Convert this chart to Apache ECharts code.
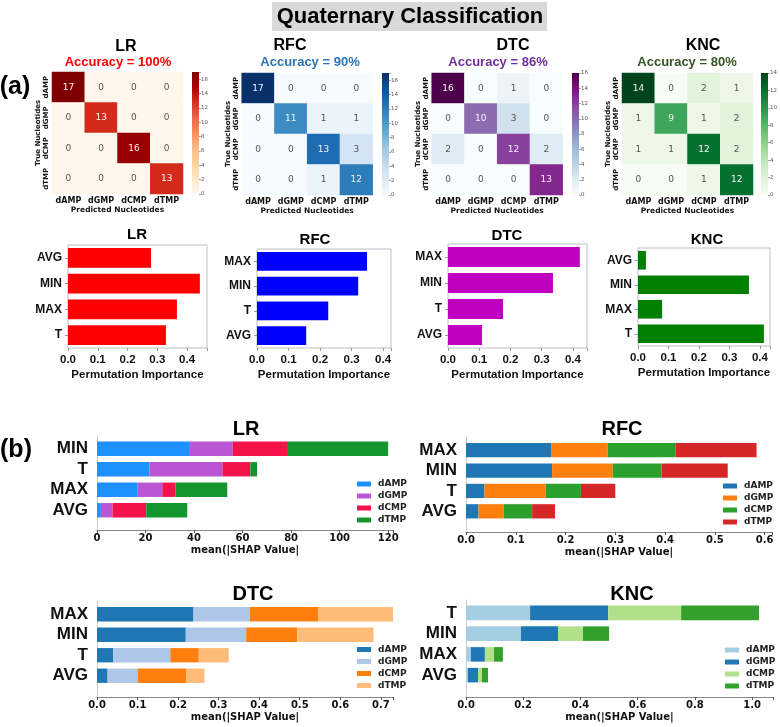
<!DOCTYPE html>
<html><head><meta charset="utf-8">
<script src="https://cdn.jsdelivr.net/npm/echarts@6/dist/echarts.min.js"></script>
<style>html,body{margin:0;padding:0;background:#fff}#c{width:780px;height:727px}</style>
</head><body><div id="c"></div><script>
// ---------------- DATA ----------------
const nucleotides = ['dAMP', 'dGMP', 'dCMP', 'dTMP'];
const models = ['LR', 'RFC', 'DTC', 'KNC'];
const accuracyText = ['Accuracy = 100%', 'Accuracy = 90%', 'Accuracy = 86%', 'Accuracy = 80%'];

const cmLR  = [[17,0,0,0],[0,13,0,0],[0,0,16,0],[0,0,0,13]];
const cmRFC = [[17,0,0,0],[0,11,1,1],[0,0,13,3],[0,0,1,12]];
const cmDTC = [[16,0,1,0],[0,10,3,0],[2,0,12,2],[0,0,0,13]];
const cmKNC = [[14,0,2,1],[1,9,1,2],[1,1,12,2],[0,0,1,12]];
const colorbarMax = [17, 17, 16, 14];

const permFeatLR  = ['AVG', 'MIN', 'MAX', 'T'];
const permValLR   = [0.279, 0.443, 0.366, 0.329];
const permFeatRFC = ['MAX', 'MIN', 'T', 'AVG'];
const permValRFC  = [0.349, 0.321, 0.226, 0.156];
const permFeatDTC = ['MAX', 'MIN', 'T', 'AVG'];
const permValDTC  = [0.422, 0.336, 0.176, 0.109];
const permFeatKNC = ['AVG', 'MIN', 'MAX', 'T'];
const permValKNC  = [0.026, 0.364, 0.079, 0.413];
const permTickLabels = ['0.0', '0.1', '0.2', '0.3', '0.4'];

const shapFeatLR = ['MIN', 'T', 'MAX', 'AVG'];
const shapLR_dAMP = [38.3, 21.6, 16.8, 1.6];
const shapLR_dGMP = [17.7, 30.1, 10.1, 4.8];
const shapLR_dCMP = [22.3, 11.5, 5.5, 13.9];
const shapLR_dTMP = [41.7, 2.8, 21.3, 16.9];

const shapFeatRFC = ['MAX', 'MIN', 'T', 'AVG'];
const shapRFC_dAMP = [0.171, 0.173, 0.037, 0.025];
const shapRFC_dGMP = [0.114, 0.122, 0.123, 0.051];
const shapRFC_dCMP = [0.136, 0.098, 0.071, 0.057];
const shapRFC_dTMP = [0.163, 0.133, 0.069, 0.046];

const shapFeatDTC = ['MAX', 'MIN', 'T', 'AVG'];
const shapDTC_dAMP = [0.238, 0.219, 0.040, 0.026];
const shapDTC_dGMP = [0.139, 0.149, 0.141, 0.074];
const shapDTC_dCMP = [0.168, 0.126, 0.070, 0.120];
const shapDTC_dTMP = [0.185, 0.188, 0.074, 0.045];

const shapFeatKNC = ['T', 'MIN', 'MAX', 'AVG'];
const shapKNC_dAMP = [0.224, 0.192, 0.017, 0.007];
const shapKNC_dGMP = [0.273, 0.130, 0.049, 0.035];
const shapKNC_dCMP = [0.255, 0.087, 0.032, 0.014];
const shapKNC_dTMP = [0.272, 0.091, 0.031, 0.021];

// ---------------- STYLE / LAYOUT ----------------
const AR = "'Liberation Sans', Arial, sans-serif";
const DJ = "'DejaVu Sans', sans-serif";

const cmapOrRd  = ['#fff7ec','#fee8c8','#fdd49e','#fdbb84','#fc8d59','#ef6548','#d7301f','#b30000','#7f0000'];
const cmapBlues = ['#f7fbff','#deebf7','#c6dbef','#9ecae1','#6baed6','#4292c6','#2171b5','#08519c','#08306b'];
const cmapBuPu  = ['#f7fcfd','#e0ecf4','#bfd3e6','#9ebcda','#8c96c6','#8c6bb1','#88419d','#810f7c','#4d004b'];
const cmapGreens= ['#f7fcf5','#e5f5e0','#c7e9c0','#a1d99b','#74c476','#41ab5d','#238b45','#006d2c','#00441b'];
const heatCmaps = [cmapOrRd, cmapBlues, cmapBuPu, cmapGreens];
const accColors = ['#ff0000', '#2e75b6', '#7030a0', '#375623'];
const permColors = ['#ff0000', '#0000ff', '#bf00bf', '#008000'];
const shapColors = [
  ['#1e90ff', '#ba55d3', '#f5124a', '#14962e'],
  ['#1f77b4', '#ff7f0e', '#2ca02c', '#d62728'],
  ['#1f77b4', '#aec7e8', '#ff7f0e', '#ffbb78'],
  ['#a6cee3', '#1f78b4', '#b2df8a', '#33a02c']
];

const heatPos = [[52, 72], [241.7, 73], [431.7, 73], [622, 73]];
const heatW = 131, heatH = 122;
const cbX = [192, 382, 572, 761], cbW = 7;
const heatTitlePos = [[126, 47], [290, 46], [513, 46], [703, 46]];
const accPos = [[118, 62], [310, 62], [498, 62], [687, 62]];

const permLayout = [
  {left: 68, top: 245, width: 139, height: 103, max: 0.467},
  {left: 257, top: 249, width: 134, height: 99, max: 0.425},
  {left: 448, top: 244, width: 139, height: 104, max: 0.445},
  {left: 638, top: 248, width: 132, height: 98, max: 0.433}
];
const permTitlePos = [[137, 235], [315, 239.5], [507, 235.5], [707, 239.5]];

const shapLayout = [
  {left: 97, top: 438.5, width: 296, height: 82, max: 122, interval: 20, offset: 9.5, dec: 0},
  {left: 466, top: 440, width: 306, height: 81.5, max: 0.615, interval: 0.1, offset: 10.5, dec: 1},
  {left: 97, top: 604, width: 296, height: 82, max: 0.73, interval: 0.1, offset: 11, dec: 1},
  {left: 466, top: 602.5, width: 307, height: 83, max: 1.073, interval: 0.2, offset: 11.5, dec: 1}
];
const shapTitlePos = [[246, 429], [622, 429], [253, 594.5], [632, 594.5]];
const legendPos = [[357, 479.5], [723, 481.5], [357, 645], [725, 645.5]];

const confusion = [cmLR, cmRFC, cmDTC, cmKNC];
const permFeat = [permFeatLR, permFeatRFC, permFeatDTC, permFeatKNC];
const permVal = [permValLR, permValRFC, permValDTC, permValKNC];
const shapFeat = [shapFeatLR, shapFeatRFC, shapFeatDTC, shapFeatKNC];
const shapVals = [
  [shapLR_dAMP, shapLR_dGMP, shapLR_dCMP, shapLR_dTMP],
  [shapRFC_dAMP, shapRFC_dGMP, shapRFC_dCMP, shapRFC_dTMP],
  [shapDTC_dAMP, shapDTC_dGMP, shapDTC_dCMP, shapDTC_dTMP],
  [shapKNC_dAMP, shapKNC_dGMP, shapKNC_dCMP, shapKNC_dTMP]
];

// ---------------- BUILD ----------------
const grid = [], xAxis = [], yAxis = [], series = [], visualMap = [], title = [], legend = [];
const graphic = [{type: 'rect', shape: {x: 272, y: 2, width: 275, height: 29}, style: {fill: '#d9d9d9'}, z: -1, silent: true}];

function txt(text, x, y, size, color, family, weight) {
  return {text, left: x, top: y, textAlign: 'center', textVerticalAlign: 'middle', padding: 0,
    textStyle: {fontFamily: family || AR, fontSize: size, fontWeight: weight || 'bold', color: color || '#000'}};
}

title.push(txt('Quaternary Classification', 410, 17, 22, '#000'));
title.push(txt('(a)', 15, 87, 25, '#000'));
title.push(txt('(b)', 16, 450, 25, '#000'));

// heatmaps: grids 0-3
models.forEach((m, i) => {
  grid.push({left: heatPos[i][0], top: heatPos[i][1], width: heatW, height: heatH, outerBoundsMode: 'none'});
  xAxis.push({type: 'category', gridIndex: i, data: nucleotides, position: 'bottom',
    axisLine: {show: false}, axisTick: {show: false}, splitLine: {show: false},
    axisLabel: {interval: 0, fontFamily: DJ, fontWeight: 'bold', fontSize: 8, color: '#111', margin: 3},
    name: 'Predicted Nucleotides', nameLocation: 'middle', nameGap: 10,
    nameTextStyle: {fontFamily: DJ, fontWeight: 'bold', fontSize: 7.5, color: '#111'}});
  yAxis.push({type: 'category', gridIndex: i, data: nucleotides, inverse: true,
    axisLine: {show: false}, axisTick: {show: false}, splitLine: {show: false},
    axisLabel: {interval: 0, rotate: 90, fontFamily: DJ, fontWeight: 'bold', fontSize: 7, color: '#111', margin: 2},
    name: 'True Nucleotides', nameLocation: 'middle', nameRotate: 90, nameGap: 10,
    nameTextStyle: {fontFamily: DJ, fontWeight: 'bold', fontSize: 7, color: '#111'}});
  title.push(txt(m, heatTitlePos[i][0], heatTitlePos[i][1], 16, '#000'));
  title.push(txt(accuracyText[i], accPos[i][0], accPos[i][1], 13, accColors[i]));
});
// colorbars: grids 4-7
models.forEach((m, i) => {
  grid.push({left: cbX[i], top: heatPos[i][1], width: cbW, height: heatH, outerBoundsMode: 'none'});
  xAxis.push({type: 'category', gridIndex: 4 + i, data: [''], show: false});
  yAxis.push({type: 'value', gridIndex: 4 + i, min: 0, max: colorbarMax[i], interval: 2, position: 'right',
    axisLine: {show: false}, splitLine: {show: false},
    axisTick: {show: true, length: 2, lineStyle: {color: '#666', width: 0.6}},
    axisLabel: {fontSize: 5.5, color: '#555', margin: 2, fontFamily: DJ,
      formatter: v => (v % 2 === 0 ? String(v) : '')}});
});
// permutation: grids 8-11
models.forEach((m, i) => {
  const p = permLayout[i];
  grid.push({left: p.left, top: p.top, width: p.width, height: p.height, show: true,
    borderColor: '#bdbdc8', borderWidth: 1, backgroundColor: 'transparent', outerBoundsMode: 'none'});
  xAxis.push({type: 'value', gridIndex: 8 + i, min: 0, max: p.max, interval: 0.1,
    axisLine: {show: false}, splitLine: {show: false},
    axisTick: {show: true, length: 3, lineStyle: {color: '#999'}},
    axisLabel: {fontFamily: AR, fontWeight: 'bold', fontSize: 11.5, color: '#111', margin: 6,
      formatter: v => { const k = Math.round(v * 10); return Math.abs(v * 10 - k) < 1e-6 && permTickLabels[k] ? permTickLabels[k] : ''; }},
    name: 'Permutation Importance', nameLocation: 'middle', nameGap: 21,
    nameTextStyle: {fontFamily: AR, fontWeight: 'bold', fontSize: 11.5, color: '#111'}});
  yAxis.push({type: 'category', gridIndex: 8 + i, data: permFeat[i], inverse: true,
    axisLine: {show: false}, splitLine: {show: false},
    axisTick: {show: true, length: 3, alignWithLabel: true, lineStyle: {color: '#999'}},
    axisLabel: {interval: 0, fontFamily: AR, fontWeight: 'bold', fontSize: 12, color: '#111', margin: 6}});
  title.push(txt(m, permTitlePos[i][0], permTitlePos[i][1], 15, '#000'));
});
// shap: grids 12-15
models.forEach((m, i) => {
  const s = shapLayout[i];
  grid.push({left: s.left, top: s.top, width: s.width, height: s.height, outerBoundsMode: 'none'});
  xAxis.push({type: 'value', gridIndex: 12 + i, min: 0, max: s.max, interval: s.interval, offset: s.offset,
    axisLine: {show: true, onZero: false, lineStyle: {color: '#888', width: 1}},
    splitLine: {show: false},
    axisTick: {show: true, length: 3, lineStyle: {color: '#555'}},
    axisLabel: {fontFamily: DJ, fontWeight: 'bold', fontSize: 10, color: '#111', margin: 3,
      formatter: v => { const k = Math.round(v / s.interval); return Math.abs(v / s.interval - k) < 1e-6 ? (k * s.interval).toFixed(s.dec) : ''; }},
    name: 'mean(|SHAP Value|', nameLocation: 'middle', nameGap: 15,
    nameTextStyle: {fontFamily: DJ, fontWeight: 'bold', fontSize: 10, color: '#111'}});
  yAxis.push({type: 'category', gridIndex: 12 + i, data: shapFeat[i], inverse: true,
    axisLine: {show: false}, axisTick: {show: false}, splitLine: {show: false},
    axisLabel: {interval: 0, fontFamily: AR, fontWeight: 'bold', fontSize: 17, color: '#111', margin: 9}});
  // left spine (decoration) spanning from above the top bar down to the offset bottom axis
  graphic.push({type: 'line', silent: true, z: 1,
    shape: {x1: s.left + 0.5, y1: s.top - 3, x2: s.left + 0.5, y2: s.top + s.height + s.offset},
    style: {stroke: '#cccccc', lineWidth: 1}});
  title.push(txt(m, shapTitlePos[i][0], shapTitlePos[i][1], 20, '#000'));
  legend.push({data: nucleotides.map(n => m + '|' + n), formatter: name => name.split('|')[1],
    orient: 'vertical', left: legendPos[i][0], top: legendPos[i][1], padding: 0,
    itemWidth: 14, itemHeight: 5, itemGap: 3, icon: 'rect', selectedMode: false,
    textStyle: {fontFamily: DJ, fontWeight: 'bold', fontSize: 9, color: '#222', padding: [0, 0, 0, 2]}});
});

// series
models.forEach((m, i) => {
  const cm = confusion[i];
  const data = [];
  cm.forEach((row, r) => row.forEach((v, c) => {
    data.push({value: [c, r, v], label: {color: v >= colorbarMax[i] * 0.5 ? '#f4f4f4' : '#555'}});
  }));
  series.push({type: 'heatmap', xAxisIndex: i, yAxisIndex: i, data, silent: true,
    label: {show: true, fontFamily: DJ, fontSize: 9, formatter: p => String(p.value[2])},
    itemStyle: {borderWidth: 0}, emphasis: {disabled: true}});
  visualMap.push({type: 'continuous', show: false, seriesIndex: i, min: 0, max: colorbarMax[i], dimension: 2,
    inRange: {color: heatCmaps[i]}});
});
models.forEach((m, i) => {
  const stops = heatCmaps[i].map((c, k) => ({offset: k / (heatCmaps[i].length - 1), color: c}));
  series.push({type: 'bar', xAxisIndex: 4 + i, yAxisIndex: 4 + i, data: [colorbarMax[i]], barWidth: '100%', silent: true,
    itemStyle: {color: {type: 'linear', x: 0, y: 1, x2: 0, y2: 0, colorStops: stops}}});
});
models.forEach((m, i) => {
  series.push({type: 'bar', xAxisIndex: 8 + i, yAxisIndex: 8 + i, data: permVal[i], barWidth: '76%', silent: true,
    itemStyle: {color: permColors[i]}});
});
models.forEach((m, i) => {
  nucleotides.forEach((n, k) => {
    series.push({type: 'bar', name: m + '|' + n, stack: 'shap' + m, xAxisIndex: 12 + i, yAxisIndex: 12 + i,
      data: shapVals[i][k], barWidth: '70%', silent: true, itemStyle: {color: shapColors[i][k]}});
  });
});

const chart = echarts.init(document.getElementById('c'), null, {renderer: 'canvas'});
chart.setOption({
  animation: false,
  backgroundColor: '#fff',
  graphic,
  title, grid, xAxis, yAxis, series, visualMap, legend,
  tooltip: {show: false}
});
</script></body></html>
